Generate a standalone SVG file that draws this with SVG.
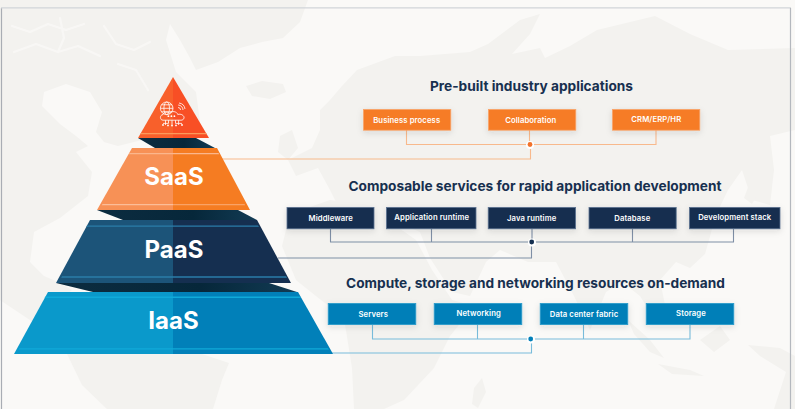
<svg xmlns="http://www.w3.org/2000/svg" width="795" height="409" viewBox="0 0 795 409">
  <style>
    .land { fill: #f3f2ef; }
    .sea { fill: #faf9f7; }
    .channel { fill: none; stroke: #f8f7f5; stroke-width: 2.2; stroke-linecap: round; stroke-linejoin: round; }
    .frame { fill: none; stroke-width: 1.2; }
    .title { font-family: Inter, "Liberation Sans", sans-serif; font-weight: 700; font-size: 13.7px; fill: #17304f; text-anchor: middle; }
    .tier { font-family: Inter, "Liberation Sans", sans-serif; font-weight: 700; font-size: 24px; fill: #ffffff; text-anchor: middle; }
    .label { font-family: Inter, "Liberation Sans", sans-serif; font-weight: 600; font-size: 7.7px; fill: #ffffff; text-anchor: middle; letter-spacing: 0.1px; }
    .box { filter: url(#lift); stroke-width: 0.8; }
    .orange { fill: #f67b26; stroke: #f9a56c; }
    .navy { fill: #152f50; stroke: #5d7390; }
    .blue { fill: #017fb8; stroke: #2a9ccb; }
    .wire { fill: none; stroke-width: 1.1; }
    .wire-orange { stroke: #f8b98c; }
    .wire-navy { stroke: #7f8fa6; }
    .wire-blue { stroke: #78bcdb; }
    .halo { fill: #ffffff; }
    .icon { fill: none; stroke: #ffffff; stroke-width: 0.8; }
    .icon-dot { fill: #ffffff; }
  </style>
  <defs>
    <filter id="lift" x="-20%" y="-40%" width="140%" height="190%">
      <feDropShadow dx="0" dy="2" stdDeviation="3" flood-color="#30343a" flood-opacity="0.13"/>
    </filter>
    <linearGradient id="under" x1="0" y1="0" x2="1" y2="0">
      <stop offset="0" stop-color="#0c2c40"/>
      <stop offset="0.6" stop-color="#06273a"/>
      <stop offset="1" stop-color="#123b54"/>
    </linearGradient>
  </defs>

  <!-- Backdrop: faint world map -->
  <rect class="sea" width="795" height="409"/>
  <g id="world-map">
    <!-- North America and Greenland -->
    <path class="land" d="M0 0H308L300 22 283 38 262 42 240 48 218 62 196 70 190 58 180 40 170 24 166 40 176 72 196 92 200 122 178 128 150 138 118 146 104 142 96 132 102 112 90 92 66 84 44 92 42 106 60 124 76 136 88 146 76 152 92 172 88 196 60 218 34 232 30 262 44 276 58 282 72 290 60 300 44 300 22 274 0 238Z"/>
    <!-- Arctic channels -->
    <path class="channel" d="M12 26 30 32 48 24 66 30 84 24M14 52 36 44 58 52 78 46 100 56M60 18 64 38 58 52M104 26 116 44 134 50 150 42M118 64 136 70 148 90"/>
    <!-- Iceland -->
    <path class="land" d="M246 86 262 81 283 84 286 92 270 99 252 96Z"/>
    <!-- Central and South America -->
    <path class="land" d="M30 262 0 220V300L60 340 68 356 82 385 107 409H213L222 380 229 363 196 352 120 350 60 320 40 292Z"/>
    <!-- Europe and Asia -->
    <path class="land" d="M320 110 330 100 342 86 357 70 395 56 420 56 470 52 488 44 520 20 540 14 530 34 512 54 540 48 545 58 570 46 597 30 655 16 690 34 728 50 795 48V130L770 136 774 170 770 205 752 200 742 170 728 190 716 215 705 254 690 268 676 262 660 280 668 320 656 322 640 296 622 282 606 292 590 330 574 296 556 262 528 262 500 250 486 262 470 296 452 292 430 258 420 232 396 222 370 228 346 222 330 190 318 168 296 176 288 160 312 148 320 130Z"/>
    <!-- Great Britain -->
    <path class="land" d="M280 136 292 130 298 148 288 160 278 152Z"/>
    <!-- Africa -->
    <path class="land" d="M290 214 330 200 372 206 396 226 416 240 432 270 452 300 474 306 450 336 434 368 404 400 384 409H354L352 368 344 318 316 296 296 280 282 246Z"/>
    <!-- Madagascar -->
    <path class="land" d="M474 388 482 378 486 392 478 408 472 404Z"/>
    <!-- Maritime Southeast Asia and northern Australia -->
    <path class="land" d="M628 320 650 340 664 358 650 352 634 334ZM658 364 690 370 704 376 672 374ZM700 340 720 326 730 340 714 352ZM748 345 780 348 795 356V409H774L786 372 760 356Z"/>
    <!-- Japan -->
    <path class="land" d="M756 166 766 180 752 204 744 198Z"/>
  </g>

  <!-- Outer frame -->
  <g id="frame">
    <path class="frame" d="M1.5 409V8" stroke="#a9adb4"/>
    <path class="frame" d="M1 7.8H791" stroke="#d1d4d9" stroke-width="1.6"/>
    <path class="frame" d="M790.5 409V8" stroke="#b4b8be"/>
  </g>

  <!-- Connectors between the tiers and their service boxes -->
  <g id="connectors">
    <path class="wire wire-orange" d="M406.5 130V144.5H656V130M529.5 130V144.5M530.5 144.5V159H221"/>
    <path class="wire wire-navy" d="M330.5 229V242H733.5V229M431.5 229V242M532 229V242M632.5 229V242M531.5 242V258H278"/>
    <path class="wire wire-blue" d="M372.5 325V339H690V325M477.5 325V339M583.5 325V339M531.5 339V353H332"/>
    <circle class="halo" cx="530" cy="145" r="4"/>
    <circle cx="530" cy="144.5" r="2.4" fill="#f2722b"/>
    <circle class="halo" cx="532" cy="242.5" r="4"/>
    <circle cx="531.7" cy="242" r="2.4" fill="#152f50"/>
    <circle class="halo" cx="531" cy="339.5" r="4"/>
    <circle cx="530.7" cy="339" r="2.4" fill="#017fb8"/>
  </g>

  <!-- Pyramid -->
  <g id="tier-top">
    <path d="M138 138 155 148H215L196 138Z" fill="url(#under)"/>
    <path d="M173 77 138 138H173Z" fill="#f8602b"/>
    <path d="M173 77 209 138H173Z" fill="#f84f25"/>
    <path d="M141 133H206L207 134.3H140Z" fill="#fb9a5c"/>
    <g id="cloud-icon">
      <circle class="icon" cx="166.7" cy="108.3" r="6.3"/>
      <ellipse class="icon" cx="166.7" cy="108.3" rx="2.8" ry="6.3"/>
      <path class="icon" d="M160.4 108.3H173M161.5 104.8H172M161.5 111.8H172"/>
      <path class="icon" d="M163 120.2C159.6 120.2 159.6 114.8 163 114.6 164 111.6 168 111.4 169.5 113.2 171.6 110.6 177 111.2 177.8 114.6 180.6 113.2 184.6 115.6 184 118 183.6 119.6 182.6 120.2 181 120.2Z" fill="#f8572a"/>
      <path class="icon" d="M178 107.5A2.6 2.6 0 0 1 180.6 110M178.2 105A5 5 0 0 1 183 110M179 103A7 7 0 0 1 185 109"/>
      <circle class="icon-dot" cx="168.4" cy="116.2" r="0.9"/>
      <circle class="icon-dot" cx="171.4" cy="116.2" r="0.9"/>
      <circle class="icon-dot" cx="174.4" cy="116.2" r="0.9"/>
      <path class="icon" d="M172 120.2V125.4M168.5 120.2V123.4H163M175.5 120.2V123.4H182M165.5 120.2V125M178.6 120.2V125"/>
      <circle class="icon-dot" cx="163" cy="125" r="0.9"/>
      <circle class="icon-dot" cx="168" cy="125.4" r="0.9"/>
      <circle class="icon-dot" cx="172" cy="125.6" r="0.9"/>
      <circle class="icon-dot" cx="176" cy="125.4" r="0.9"/>
      <circle class="icon-dot" cx="182" cy="125" r="0.9"/>
    </g>
  </g>

  <g id="tier-saas">
    <path d="M97 210 123 220H257L238 210Z" fill="url(#under)"/>
    <path d="M132 148H173V210H97Z" fill="#f79156"/>
    <path d="M173 148H217L250 210H173Z" fill="#f57c22"/>
    <path d="M129.5 153H218.5L219.3 154.2H128.9Z" fill="#fbb68c"/>
    <path d="M102.5 204H173V205.2H101.8Z" fill="#fbbd98"/>
    <path d="M173 204H244.5L245.2 205.2H173Z" fill="#f9a266"/>
    <text class="tier" x="174" y="185">SaaS</text>
  </g>

  <g id="tier-paas">
    <path d="M56 283 93 292H297L269 283Z" fill="url(#under)"/>
    <path d="M90 220H173V283H56Z" fill="#1c5479"/>
    <path d="M173 220H257L291 283H173Z" fill="#152f50"/>
    <path d="M87 225.4H258L259 226.8H86.2Z" fill="#2a7da9"/>
    <path d="M62 276.3H286L287 277.7H61.2Z" fill="#2a7da9"/>
    <text class="tier" x="174" y="258">PaaS</text>
  </g>

  <g id="tier-iaas">
    <path d="M48 292H173V354H14Z" fill="#0a99cb"/>
    <path d="M173 292H298L333 354H173Z" fill="#0180b9"/>
    <path d="M45.5 296.5H300L301 298H44.6Z" fill="#10aad9"/>
    <path d="M19.5 348.2H328L329 349.6H18.6Z" fill="#10aad9"/>
    <text class="tier" x="173.5" y="329">IaaS</text>
  </g>

  <!-- SaaS row -->
  <text class="title" x="531.5" y="91">Pre-built industry applications</text>
  <g id="business-process"><rect class="box orange" x="363.4" y="109.4" width="87.4" height="20.8"/><text class="label" x="406.7" y="122.7">Business process</text></g>
  <g id="collaboration"><rect class="box orange" x="488.4" y="109.4" width="87.4" height="20.8"/><text class="label" x="530.7" y="122.7">Collaboration</text></g>
  <g id="crm-erp-hr"><rect class="box orange" x="612.4" y="109.4" width="87.4" height="20.8"/><text class="label" x="656.3" y="122">CRM/ERP/HR</text></g>

  <!-- PaaS row -->
  <text class="title" x="535" y="191">Composable services for rapid application development</text>
  <g id="middleware"><rect class="box navy" x="287" y="207.4" width="87" height="21.4"/><text class="label" x="330.7" y="220.7">Middleware</text></g>
  <g id="application-runtime"><rect class="box navy" x="386.4" y="207.4" width="89.6" height="21.4"/><text class="label" x="431.7" y="220">Application runtime</text></g>
  <g id="java-runtime"><rect class="box navy" x="488.2" y="207.4" width="87.4" height="21.4"/><text class="label" x="531.7" y="220.7">Java runtime</text></g>
  <g id="database"><rect class="box navy" x="589" y="207.4" width="87.2" height="21.4"/><text class="label" x="632.3" y="220.7">Database</text></g>
  <g id="development-stack"><rect class="box navy" x="689.4" y="207.4" width="90.6" height="21.4"/><text class="label" x="734.7" y="220">Development stack</text></g>

  <!-- IaaS row -->
  <text class="title" x="535.5" y="288">Compute, storage and networking resources on-demand</text>
  <g id="servers"><rect class="box blue" x="328.2" y="303.4" width="87.6" height="21.2"/><text class="label" x="373.3" y="316.7">Servers</text></g>
  <g id="networking"><rect class="box blue" x="434.2" y="303.4" width="87.6" height="21.2"/><text class="label" x="478.7" y="316">Networking</text></g>
  <g id="data-center-fabric"><rect class="box blue" x="540.2" y="303.4" width="87.6" height="21.2"/><text class="label" x="584" y="317">Data center fabric</text></g>
  <g id="storage"><rect class="box blue" x="646.2" y="303.4" width="87.6" height="21.2"/><text class="label" x="691" y="316">Storage</text></g>
</svg>
